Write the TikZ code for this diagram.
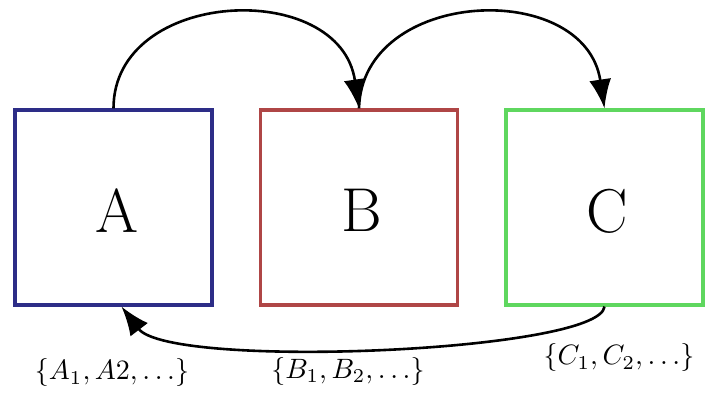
\documentclass[tikz,border=0pt]{standalone}
\usepackage{graphicx}
\usetikzlibrary{arrows.meta}
\definecolor{boxA}{RGB}{45,45,135}
\definecolor{boxB}{RGB}{175,70,70}
\definecolor{boxC}{RGB}{95,215,95}
\newcommand{\boxletter}[1]{\kern6pt\raisebox{0pt}[\dimexpr\height+6pt\relax][0pt]{#1}}
\begin{document}
\begin{tikzpicture}[x=1pt,y=-1pt,
  statebox/.style={draw, line width=3.2pt, minimum width=197pt, minimum height=195pt, inner sep=0pt,
    font=\fontsize{62}{62}\selectfont},
  link/.style={line width=2.6pt, -{Latex[length=29pt,width=22pt]}},
  setlabel/.style={inner sep=0pt}]
\useasboundingbox (0,0) rectangle (705,398);
\node[fill=white, minimum width=165pt, minimum height=42pt, inner sep=0pt] (lcbg) at (622.5,359) {};
\node[statebox, draw=boxA] (A) at (113.5,207.5) {\boxletter{A}};
\node[statebox, draw=boxB] (B) at (359,207.5) {\boxletter{B}};
\node[statebox, draw=boxC] (C) at (604.5,207.5) {\boxletter{C}};
\draw[link] (A.north) .. controls (113.5,-12) and (340,-22) .. (B.north);
\draw[link] (B.north) .. controls (362,-12) and (585,-22) .. (C.north);
\draw[link] (C.south) .. controls (600,352) and (170,370) .. ([xshift=8pt]A.south);
\node[setlabel] (la) at (112,373) {\scalebox{2.8}{$\{A_1, A2, \dots\}$}};
\node[setlabel] (lb) at (348,371) {\scalebox{2.8}{$\{B_1, B_2, \dots\}$}};
\node[setlabel] (lc) at (619,358) {\scalebox{2.8}{$\{C_1, C_2, \dots\}$}};
\end{tikzpicture}
\end{document}
